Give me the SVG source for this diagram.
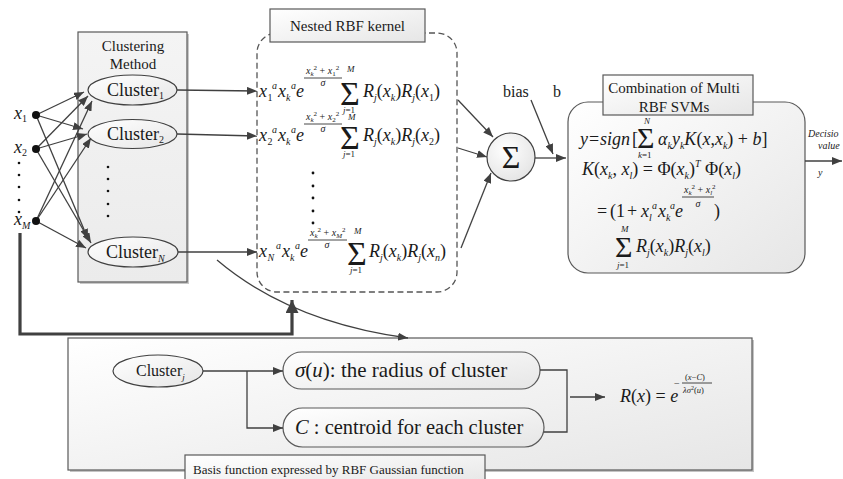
<svg xmlns="http://www.w3.org/2000/svg" width="843" height="479" viewBox="0 0 843 479">
<defs>
<linearGradient id="g1" x1="0" y1="0" x2="1" y2="1">
<stop offset="0" stop-color="#ffffff"/>
<stop offset="1" stop-color="#e6e6e6"/>
</linearGradient>
<linearGradient id="g2" x1="0" y1="0" x2="0" y2="1">
<stop offset="0" stop-color="#f4f4f4"/>
<stop offset="1" stop-color="#ebebeb"/>
</linearGradient>
<radialGradient id="g3" cx="0.4" cy="0.35" r="0.7">
<stop offset="0" stop-color="#ffffff"/>
<stop offset="1" stop-color="#e4e4e4"/>
</radialGradient>
<marker id="ah" markerUnits="userSpaceOnUse" markerWidth="10" markerHeight="8" refX="10" refY="4" orient="auto">
<path d="M0,0 L10,4 L0,8 z" fill="#404040"/>
</marker>
<marker id="ah2" markerUnits="userSpaceOnUse" markerWidth="13" markerHeight="13" refX="13" refY="6.5" orient="auto">
<path d="M0,0 L13,6.5 L0,13 z" fill="#404040"/>
</marker>
</defs>
<style>
.t{font-family:"Liberation Serif","Times New Roman",serif;fill:#1a1a1a}
.i{font-style:italic}
.u{font-style:normal}
.bx{fill:url(#g1);stroke:#595959;stroke-width:1.2}
.ln{stroke:#404040;stroke-width:1.3;fill:none}
.ar{marker-end:url(#ah)}
.el{fill:url(#g1);stroke:#404040;stroke-width:1.2}
.fl{stroke:#1a1a1a;stroke-width:0.8}
.dot{fill:#111}
</style>

<!-- Inputs -->
<g id="inputs">
<text class="t i" font-size="18" x="14" y="119">x<tspan class="u" font-size="10" dy="3">1</tspan></text>
<text class="t i" font-size="18" x="14" y="153">x<tspan class="u" font-size="10" dy="3">2</tspan></text>
<text class="t i" font-size="18" x="14" y="225">x<tspan font-size="10" dy="4">M</tspan></text>
<circle class="dot" cx="19" cy="163" r="1.3"/>
<circle class="dot" cx="19" cy="175" r="1.3"/>
<circle class="dot" cx="19" cy="187" r="1.3"/>
<circle class="dot" cx="19" cy="200" r="1.3"/>
<circle class="dot" cx="19" cy="212" r="1.3"/>
</g>

<!-- Clustering box -->
<g id="clustering">
<rect x="80" y="34" width="109" height="250" fill="#c8c8c8"/>
<rect x="78" y="32" width="109" height="250" fill="url(#g2)" stroke="#595959" stroke-width="1.2"/>
<text class="t" font-size="15" x="133" y="51" text-anchor="middle">Clustering</text>
<text class="t" font-size="15" x="133" y="69" text-anchor="middle">Method</text>
<circle class="dot" cx="108" cy="167" r="1.3"/>
<circle class="dot" cx="108" cy="179" r="1.3"/>
<circle class="dot" cx="108" cy="191" r="1.3"/>
<circle class="dot" cx="108" cy="204" r="1.3"/>
<circle class="dot" cx="108" cy="216" r="1.3"/>
</g>
<g id="cluster1">
<ellipse class="el" cx="132.5" cy="90" rx="44.5" ry="15"/>
<text class="t" font-size="18" x="107" y="96">Cluster<tspan font-size="10" dy="3">1</tspan></text>
</g>
<g id="cluster2">
<ellipse class="el" cx="132.5" cy="134" rx="44.5" ry="14.5"/>
<text class="t" font-size="18" x="107" y="140">Cluster<tspan font-size="10" dy="3">2</tspan></text>
</g>
<g id="clusterN">
<ellipse class="el" cx="133" cy="252" rx="45" ry="15"/>
<text class="t" font-size="18" x="106" y="258">Cluster<tspan class="i" font-size="10" dy="4">N</tspan></text>
</g>

<!-- Nested RBF kernel -->
<g id="nested">
<rect x="257" y="33" width="200" height="259" rx="20" fill="none" stroke="#555" stroke-width="1.3" stroke-dasharray="6,3.5"/>
<rect x="270" y="9" width="155" height="33" class="bx"/>
<text class="t" font-size="15" x="347.5" y="31" text-anchor="middle">Nested RBF kernel</text>

<g transform="translate(259,97)">
<text class="t i" font-size="18" x="0" y="0">x</text>
<text class="t" font-size="10" x="8.5" y="4">1</text>
<text class="t i" font-size="10" x="13" y="-8">a</text>
<text class="t i" font-size="18" x="19" y="0">x</text>
<text class="t i" font-size="10" x="27" y="4">k</text>
<text class="t i" font-size="10" x="32" y="-8">a</text>
<text class="t i" font-size="18" x="37" y="0">e</text>
<text class="t i" font-size="10" x="47" y="-23">x<tspan font-size="7" dy="2">k</tspan><tspan class="u" font-size="7" dy="-6">2</tspan><tspan class="u" dy="4"> + </tspan>x<tspan class="u" font-size="7" dy="2">1</tspan><tspan class="u" font-size="7" dy="-6">2</tspan></text>
<line class="fl" x1="45" y1="-19" x2="83" y2="-19"/>
<text class="t i" font-size="10" x="64" y="-11" text-anchor="middle">σ</text>
<text class="t" font-size="34" x="81" y="8">Σ</text>
<text class="t i" font-size="9" x="88" y="-25">M</text>
<text class="t" font-size="9" x="84" y="16"><tspan class="i">j</tspan>=1</text>
<text class="t i" font-size="18" x="104" y="0">R<tspan font-size="10" dy="4">j</tspan><tspan class="u" dy="-4">(</tspan>x<tspan font-size="10" dy="4">k</tspan><tspan class="u" dy="-4">)</tspan>R<tspan font-size="10" dy="4">j</tspan><tspan class="u" dy="-4">(</tspan>x<tspan class="u" font-size="10" dy="4">1</tspan><tspan class="u" dy="-4">)</tspan></text>
</g>

<g transform="translate(259,141)">
<text class="t i" font-size="18" x="0" y="0">x</text>
<text class="t" font-size="10" x="8.5" y="4">2</text>
<text class="t i" font-size="10" x="13" y="-8">a</text>
<text class="t i" font-size="18" x="19" y="0">x</text>
<text class="t i" font-size="10" x="27" y="4">k</text>
<text class="t i" font-size="10" x="32" y="-8">a</text>
<text class="t i" font-size="18" x="37" y="0">e</text>
<text class="t i" font-size="10" x="47" y="-21">x<tspan font-size="7" dy="2">k</tspan><tspan class="u" font-size="7" dy="-6">2</tspan><tspan class="u" dy="4"> + </tspan>x<tspan class="u" font-size="7" dy="2">2</tspan><tspan class="u" font-size="7" dy="-6">2</tspan></text>
<line class="fl" x1="45" y1="-17" x2="83" y2="-17"/>
<text class="t i" font-size="10" x="64" y="-9" text-anchor="middle">σ</text>
<text class="t" font-size="34" x="81" y="8">Σ</text>
<text class="t i" font-size="9" x="89" y="-21">M</text>
<text class="t" font-size="9" x="84" y="16"><tspan class="i">j</tspan>=1</text>
<text class="t i" font-size="18" x="104" y="0">R<tspan font-size="10" dy="4">j</tspan><tspan class="u" dy="-4">(</tspan>x<tspan font-size="10" dy="4">k</tspan><tspan class="u" dy="-4">)</tspan>R<tspan font-size="10" dy="4">j</tspan><tspan class="u" dy="-4">(</tspan>x<tspan class="u" font-size="10" dy="4">2</tspan><tspan class="u" dy="-4">)</tspan></text>
</g>

<circle class="dot" cx="313" cy="173" r="1.4"/>
<circle class="dot" cx="313" cy="186" r="1.4"/>
<circle class="dot" cx="313" cy="198" r="1.4"/>
<circle class="dot" cx="313" cy="211" r="1.4"/>
<circle class="dot" cx="313" cy="223" r="1.4"/>

<g transform="translate(259,257)">
<text class="t i" font-size="18" x="0" y="0">x</text>
<text class="t i" font-size="10" x="8.5" y="4">N</text>
<text class="t i" font-size="10" x="17" y="-8">a</text>
<text class="t i" font-size="18" x="23" y="0">x</text>
<text class="t i" font-size="10" x="31" y="4">k</text>
<text class="t i" font-size="10" x="36" y="-8">a</text>
<text class="t i" font-size="18" x="41" y="0">e</text>
<text class="t i" font-size="10" x="51" y="-21">x<tspan font-size="7" dy="2">k</tspan><tspan class="u" font-size="7" dy="-6">2</tspan><tspan class="u" dy="4"> + </tspan>x<tspan font-size="7" dy="2">M</tspan><tspan class="u" font-size="7" dy="-6">2</tspan></text>
<line class="fl" x1="49" y1="-17" x2="88" y2="-17"/>
<text class="t i" font-size="10" x="68" y="-9" text-anchor="middle">σ</text>
<text class="t" font-size="34" x="88" y="8">Σ</text>
<text class="t i" font-size="9" x="95" y="-23">M</text>
<text class="t" font-size="9" x="91" y="16"><tspan class="i">j</tspan>=1</text>
<text class="t i" font-size="18" x="110" y="0">R<tspan font-size="10" dy="4">j</tspan><tspan class="u" dy="-4">(</tspan>x<tspan font-size="10" dy="4">k</tspan><tspan class="u" dy="-4">)</tspan>R<tspan font-size="10" dy="4">j</tspan><tspan class="u" dy="-4">(</tspan>x<tspan font-size="10" dy="4">n</tspan><tspan class="u" dy="-4">)</tspan></text>
</g>
</g>

<!-- Sum node -->
<g id="sum">
<circle cx="511" cy="157" r="24" fill="url(#g3)" stroke="#404040" stroke-width="1.2"/>
<text class="t" font-size="32" x="511" y="168" text-anchor="middle">Σ</text>
</g>
<g id="bias">
<text class="t" font-size="16" x="503" y="97">bias</text>
<text class="t" font-size="16" x="553" y="97">b</text>
</g>

<!-- Combination box -->
<g id="combination">
<rect x="568" y="102" width="237" height="171" rx="20" class="bx"/>
<rect x="603" y="75" width="150" height="40" class="bx"/>
<text class="t" font-size="15" x="674" y="93" text-anchor="middle">Combination of Multi</text>
<text class="t" font-size="15" x="674" y="112" text-anchor="middle">RBF SVMs</text>

<text class="t i" font-size="18" x="580" y="145">y</text>
<text class="t" font-size="18" x="589" y="145">=</text>
<text class="t i" font-size="18" x="600" y="145">sign</text>
<text class="t" font-size="18" x="632" y="145">[</text>
<text class="t" font-size="30" x="637" y="148">Σ</text>
<text class="t i" font-size="9" x="644" y="124">N</text>
<text class="t" font-size="9" x="638" y="158"><tspan class="i">k</tspan>=1</text>
<text class="t i" font-size="18" x="658" y="145">α<tspan font-size="10" dy="4">k</tspan><tspan dy="-4">y</tspan><tspan font-size="10" dy="4">k</tspan><tspan dy="-4">K</tspan><tspan class="u">(</tspan>x<tspan class="u">,</tspan>x<tspan font-size="10" dy="4">k</tspan><tspan class="u" dy="-4">) + </tspan>b<tspan class="u">]</tspan></text>

<text class="t i" font-size="18" x="582" y="175">K<tspan class="u">(</tspan>x<tspan font-size="10" dy="4">k</tspan><tspan class="u" dy="-4">, </tspan>x<tspan font-size="10" dy="4">l</tspan><tspan class="u" dy="-4">) = Φ(</tspan>x<tspan font-size="10" dy="4">k</tspan><tspan class="u" dy="-4">)</tspan><tspan font-size="10" dy="-8">T</tspan><tspan class="u" dy="8"> Φ(</tspan>x<tspan font-size="10" dy="4">l</tspan><tspan class="u" dy="-4">)</tspan></text>

<text class="t" font-size="18" x="597" y="217">=</text>
<text class="t" font-size="18" x="610" y="217">(1</text>
<text class="t" font-size="18" x="627" y="217">+</text>
<text class="t i" font-size="18" x="641" y="217">x</text>
<text class="t i" font-size="10" x="649" y="221">l</text>
<text class="t i" font-size="10" x="652" y="209">a</text>
<text class="t i" font-size="18" x="658" y="217">x</text>
<text class="t i" font-size="10" x="666" y="221">k</text>
<text class="t i" font-size="10" x="670" y="209">a</text>
<text class="t i" font-size="18" x="675" y="217">e</text>
<text class="t i" font-size="10" x="684" y="193">x<tspan font-size="7" dy="2">k</tspan><tspan class="u" font-size="7" dy="-6">2</tspan><tspan class="u" dy="4"> + </tspan>x<tspan font-size="7" dy="2">l</tspan><tspan class="u" font-size="7" dy="-6">2</tspan></text>
<line class="fl" x1="682" y1="197" x2="714" y2="197"/>
<text class="t i" font-size="10" x="698" y="207" text-anchor="middle">σ</text>
<text class="t" font-size="18" x="714" y="217">)</text>

<text class="t" font-size="30" x="615" y="257">Σ</text>
<text class="t i" font-size="9" x="621" y="232">M</text>
<text class="t" font-size="9" x="617" y="268"><tspan class="i">j</tspan>=1</text>
<text class="t i" font-size="18" x="636" y="252">R<tspan font-size="10" dy="4">j</tspan><tspan class="u" dy="-4">(</tspan>x<tspan font-size="10" dy="4">k</tspan><tspan class="u" dy="-4">)</tspan>R<tspan font-size="10" dy="4">j</tspan><tspan class="u" dy="-4">(</tspan>x<tspan font-size="10" dy="4">l</tspan><tspan class="u" dy="-4">)</tspan></text>
</g>

<g id="output">
<text class="t i" font-size="10" x="808" y="137">Decisio</text>
<text class="t i" font-size="10" x="818" y="149">value</text>
<text class="t i" font-size="10" x="818" y="176">y</text>
</g>

<!-- Bottom box -->
<g id="basis">
<rect x="70" y="340" width="684" height="132" fill="#c4c4c4"/>
<rect x="68" y="338" width="684" height="132" class="bx"/>
<rect x="185" y="455" width="300" height="30" class="bx"/>
<text class="t" font-size="13" x="193" y="474">Basis function expressed by RBF Gaussian function</text>
</g>
<g id="clusterj">
<ellipse class="el" cx="158" cy="371" rx="45" ry="16"/>
<text class="t" font-size="16" x="136" y="376">Cluster<tspan class="i" font-size="9" dy="4">j</tspan></text>
</g>
<g id="sigma">
<rect x="283" y="352" width="257" height="37" rx="18.5" class="bx"/>
<text class="t" font-size="21" x="295" y="377"><tspan class="i">σ</tspan>(<tspan class="i">u</tspan>):  the radius of cluster</text>
</g>
<g id="centroid">
<rect x="283" y="408" width="261" height="39" rx="19.5" class="bx"/>
<text class="t" font-size="20.5" x="295" y="434"><tspan class="i">C</tspan> : centroid for each cluster</text>
</g>
<g id="rbf">
<text class="t i" font-size="18" x="620" y="402">R<tspan class="u">(</tspan>x<tspan class="u">) = </tspan>e</text>
<text class="t" font-size="10" x="674" y="387">−</text>
<text class="t" font-size="8.5" x="685" y="380">(<tspan class="i">x</tspan>−<tspan class="i">C</tspan>)</text>
<line class="fl" x1="682" y1="383" x2="712" y2="383"/>
<text class="t" font-size="8.5" x="683" y="393"><tspan class="i">λσ</tspan><tspan font-size="6" dy="-3">2</tspan><tspan dy="3">(</tspan><tspan class="i">u</tspan>)</text>
</g>

<!-- Connectors -->
<g id="connectors">
<line class="ln ar" x1="36" y1="115" x2="84" y2="92"/>
<line class="ln ar" x1="36" y1="115" x2="83" y2="129"/>
<line class="ln ar" x1="36" y1="115" x2="88" y2="239"/>
<line class="ln ar" x1="36" y1="149" x2="88" y2="96"/>
<line class="ln ar" x1="36" y1="149" x2="87" y2="134"/>
<line class="ln ar" x1="36" y1="149" x2="91" y2="243"/>
<line class="ln ar" x1="36" y1="221" x2="92" y2="101"/>
<line class="ln ar" x1="36" y1="221" x2="91" y2="138"/>
<line class="ln ar" x1="36" y1="221" x2="86" y2="248"/>
<circle class="dot" cx="36" cy="115" r="4"/>
<circle class="dot" cx="36" cy="149" r="4"/>
<circle class="dot" cx="36" cy="221" r="4"/>

<line class="ln ar" x1="177" y1="90" x2="257" y2="91"/>
<line class="ln ar" x1="177" y1="134" x2="257" y2="136"/>
<line class="ln ar" x1="178" y1="252" x2="257" y2="252"/>

<line class="ln ar" x1="458" y1="100" x2="493" y2="137"/>
<line class="ln ar" x1="458" y1="148" x2="487" y2="157"/>
<line class="ln ar" x1="461" y1="248" x2="491" y2="173"/>
<line class="ln ar" x1="531" y1="100" x2="553" y2="154"/>
<line class="ln ar" x1="535" y1="158" x2="566" y2="158"/>
<line class="ln ar" x1="805" y1="161" x2="842" y2="161"/>

<path d="M20,233 V334 H292 V300" fill="none" stroke="#404040" stroke-width="3.2" marker-end="url(#ah2)"/>
<path class="ln ar" d="M217,260 Q290,322 408,338"/>

<line class="ln" x1="203" y1="371" x2="247" y2="371"/>
<line class="ln ar" x1="247" y1="371" x2="283" y2="371"/>
<polyline class="ln ar" points="247,371 247,428 283,428"/>
<polyline class="ln" points="540,370 567,370 567,432 544,432"/>
<line class="ln ar" x1="570" y1="397" x2="605" y2="397"/>
</g>
</svg>
